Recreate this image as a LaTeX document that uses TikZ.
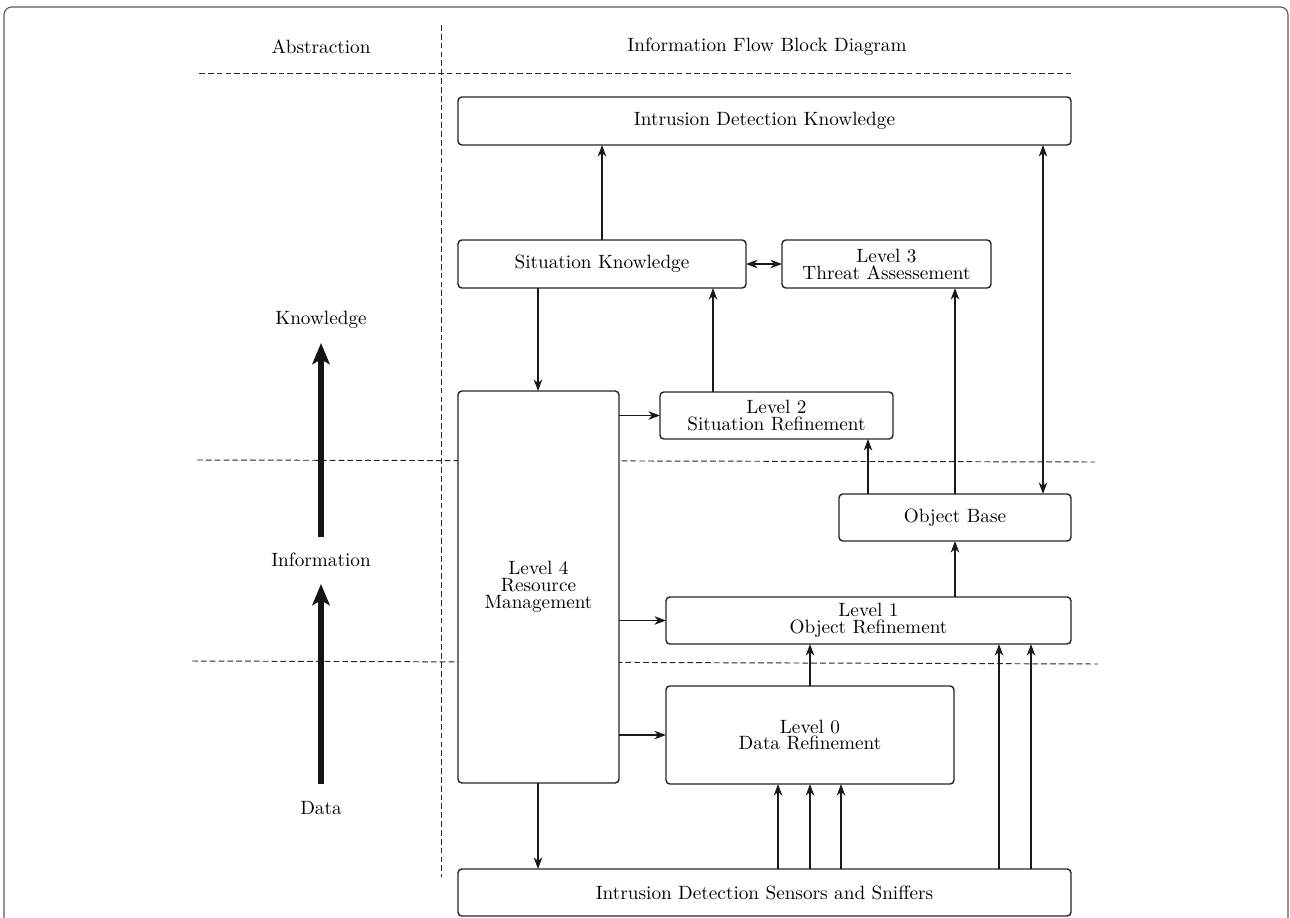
\documentclass[tikz,border=0pt]{standalone}
\usetikzlibrary{arrows.meta}
\begin{document}
\begin{tikzpicture}[x=0.52pt,y=-0.52pt,
  box/.style 2 args={draw=black!85, fill=white, line width=0.75pt, rounded corners=2pt, inner sep=0pt, outer sep=0pt, align=center, minimum width={#1*0.52pt}, minimum height={#2*0.52pt}, font=\fontsize{10pt}{8.8pt}\selectfont},
  arr/.style={-{Stealth[length=6pt,width=4.4pt,inset=1.8pt]}, line width=0.6pt, black!90},
  darr/.style={{Stealth[length=6pt,width=4.4pt,inset=1.8pt]}-{Stealth[length=6pt,width=4.4pt,inset=1.8pt]}, line width=0.6pt, black!90},
  sep/.style={dash pattern=on 3pt off 1.6pt, line width=0.5pt, black!85},
  big/.style={-{Stealth[length=11pt,width=9pt,inset=2.5pt]}, line width=3.6pt, black!92},
  lab/.style={inner sep=0pt, font=\fontsize{10pt}{12pt}\selectfont}]
\useasboundingbox (0,0) rectangle (1290,918);
\clip (0,0) rectangle (1290,918);
% outer frame
\draw[black!65, line width=0.6pt, rounded corners=4pt] (4,960) -- (4,7) -- (1288,7) -- (1288,960);
% separators
\draw[sep] (441,25) -- (441,877);
\draw[sep] (199,73) -- (1071,73);
\draw[sep] (197,460) -- (1095,462);
\draw[sep] (192,661) -- (1098,664);
% headings and levels
\node[lab] (habs) at (321,47) {Abstraction};
\node[lab] (hifb) at (767,47) {Information Flow Block Diagram};
\node[lab] (kn) at (321,320) {Knowledge};
\node[lab] (inf) at (321,560) {Information};
\node[lab] (dat) at (321,808) {Data};
\coordinate (a1s) at (321,537);
\coordinate (a1e) at (321,343);
\coordinate (a2s) at (321,784);
\coordinate (a2e) at (321,584);
\draw[big] (a1s) -- (a1e);
\draw[big] (a2s) -- (a2e);
% boxes
\node[box={613}{48}] (IDK) at (764.5,121) {Intrusion Detection Knowledge};
\node[box={288}{48}] (SK) at (602,264) {Situation Knowledge};
\node[box={209}{48}] (L3) at (886.5,264) {Level 3\\Threat Assessement};
\node[box={233}{47}] (L2) at (776.5,415.5) {Level 2\\Situation Refinement};
\node[box={161}{392}] (L4) at (538.5,587) {Level 4\\Resource\\Management};
\node[box={232}{47}] (OB) at (955,517.5) {Object Base};
\node[box={405}{47}] (L1) at (868.5,620.5) {Level 1\\Object Refinement};
\node[box={288}{98}] (L0) at (810,735) {Level 0\\Data Refinement};
\node[box={613}{47}] (S) at (764.5,892.5) {Intrusion Detection Sensors and Sniffers};
% x positions of vertical connectors
\foreach \x in {538,602,713,778,810,841,868,955,999,1031,1043} \coordinate (c\x) at (\x,0);
% connectors
\draw[arr] (SK.north -| c602) -- (IDK.south -| c602);
\draw[darr] (SK.east) -- (L3.west);
\draw[arr] (SK.south -| c538) -- (L4.north -| c538);
\draw[arr] (L2.north -| c713) -- (SK.south -| c713);
\draw[arr] (L4.east |- L2.west) -- (L2.west);
\draw[arr] (OB.north -| c868) -- (L2.south -| c868);
\draw[arr] (OB.north -| c955) -- (L3.south -| c955);
\draw[darr] (IDK.south -| c1043) -- (OB.north -| c1043);
\draw[arr] (L1.north -| c955) -- (OB.south -| c955);
\draw[arr] (L4.east |- L1.west) -- (L1.west);
\draw[arr] (L4.east |- L0.west) -- (L0.west);
\draw[arr] (L0.north -| c810) -- (L1.south -| c810);
\draw[arr] (L4.south -| c538) -- (S.north -| c538);
\foreach \x in {778,810,841} \draw[arr] (S.north -| c\x) -- (L0.south -| c\x);
\foreach \x in {999,1031} \draw[arr] (S.north -| c\x) -- (L1.south -| c\x);
\end{tikzpicture}
\end{document}
